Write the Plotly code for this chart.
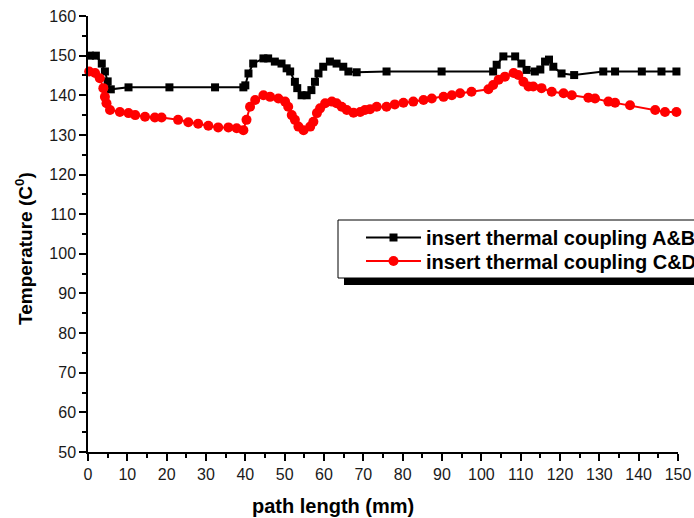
import plotly.graph_objects as go

# ---- data ----
x_ab = [0.5, 2.0, 3.5, 4.3, 5.0, 5.8, 10.3, 20.7, 32.3, 39.5,
        40.0, 40.8, 42.0, 44.6, 45.8, 47.5, 49.2, 50.5, 51.4, 52.6,
        53.2, 54.3, 55.6, 56.8, 57.7, 58.6, 59.8, 61.5, 63.2, 64.9,
        66.2, 68.3, 75.9, 89.9, 103.0, 103.9, 105.6, 108.6, 110.2, 111.5,
        113.6, 115.0, 116.2, 117.2, 118.3, 120.4, 123.6, 131.0, 134.0, 140.8,
        145.8, 149.6]
t_ab = [150, 150, 148, 146, 143.5, 141.5, 142, 142, 142, 142,
        142.5, 145.5, 148, 149.3, 149.3, 148.5, 148, 146.8, 146, 143.4,
        141.8, 140, 140, 141.3, 143.4, 145.5, 147.2, 148.5, 148, 147.2,
        146, 145.8, 146, 146, 146, 147.7, 149.8, 149.8, 148, 146.4,
        146, 146.5, 148.5, 149, 147.2, 145.5, 145.1, 146, 146, 146,
        146, 146]

x_cd = [0.3, 1.8, 3.0, 3.9, 4.3, 4.7, 5.6, 8.1, 10.3, 12.0,
        14.5, 17.0, 18.7, 22.9, 25.5, 28.0, 30.6, 33.1, 35.7, 37.8,
        39.5, 40.3, 41.2, 42.5, 44.6, 46.3, 48.4, 50.1, 50.9, 51.8,
        52.6, 53.5, 54.8, 56.5, 57.3, 58.2, 59.0, 60.3, 62.0, 63.2,
        64.5, 65.8, 67.5, 69.2, 70.4, 71.7, 73.4, 75.9, 78.0, 80.2,
        82.7, 85.3, 87.4, 90.4, 92.5, 94.6, 97.5, 101.8, 103.0, 104.4,
        106.0, 108.2, 109.4, 110.7, 112.0, 113.2, 115.3, 117.9, 120.9, 123.0,
        127.2, 128.9, 132.3, 134.0, 137.8, 144.2, 146.7, 149.6]
t_cd = [146, 145.6, 144.3, 141.8, 139.6, 138.0, 136.3, 135.8, 135.5, 135.0,
        134.6, 134.4, 134.4, 133.8, 133.2, 132.8, 132.3, 131.9, 131.9, 131.7,
        131.2, 133.8, 137.1, 138.8, 140.0, 139.6, 139.2, 138.4, 137.1, 135.0,
        133.8, 132.1, 131.2, 132.1, 133.3, 135.5, 136.7, 138.0, 138.4, 138.0,
        137.1, 136.3, 135.6, 135.8, 136.3, 136.5, 137.1, 137.1, 137.7, 138.1,
        138.4, 138.8, 139.2, 139.6, 140.0, 140.5, 140.9, 141.5, 142.6, 143.9,
        144.7, 145.6, 145.1, 143.4, 142.2, 142.2, 141.8, 140.9, 140.5, 140.0,
        139.4, 139.2, 138.4, 138.1, 137.5, 136.3, 135.8, 135.8]

name_ab = "insert thermal coupling A&B"
name_cd = "insert thermal coupling C&D"
x_title = "path length (mm)"
y_title = "Temperature (C<sup>0</sup>)"

W, H = 694, 518
ML, MR, MT, MB = 88, 16, 16, 66
PW, PH = W - ML - MR, H - MT - MB

def px_x(p):
    return (p - ML) / PW

def px_y(p):
    return (H - MB - p) / PH

FONT = "Liberation Sans, Arial, sans-serif"

fig = go.Figure()
fig.add_trace(go.Scatter(
    x=x_ab, y=t_ab, mode="lines+markers", name=name_ab, legend="legend",
    line=dict(color="black", width=2),
    marker=dict(symbol="square", size=8, color="black"),
    cliponaxis=False))
fig.add_trace(go.Scatter(
    x=x_cd, y=t_cd, mode="lines+markers", name=name_cd, legend="legend2",
    line=dict(color="#ff0000", width=2),
    marker=dict(symbol="circle", size=10, color="#ff0000"),
    cliponaxis=False))

axis_common = dict(
    showgrid=False, zeroline=False, showline=True, linecolor="black", linewidth=1.5,
    ticks="outside", ticklen=7, tickwidth=1.5, tickcolor="black",
    tickfont=dict(family=FONT, size=16, color="#1a1a1a"),
    minor=dict(ticks="outside", ticklen=4, tickwidth=1.5, tickcolor="black", dtick=5),
    mirror=False,
)

fig.update_xaxes(range=[0, 150], dtick=10, tick0=0, **axis_common)
fig.update_yaxes(range=[50, 160], dtick=10, tick0=50, **axis_common)

legend_common = dict(
    x=px_x(338), xanchor="left", yanchor="middle",
    bgcolor="rgba(0,0,0,0)", borderwidth=0,
    font=dict(family=FONT, size=20, color="black", weight="bold"),
    itemwidth=55, indentation=23,
)

fig.update_layout(
    width=W, height=H,
    margin=dict(l=ML, r=MR, t=MT, b=MB, autoexpand=False),
    paper_bgcolor="white", plot_bgcolor="white",
    showlegend=True,
    legend=dict(y=px_y(237.5), **legend_common),
    legend2=dict(y=px_y(261), **legend_common),
    shapes=[
        dict(type="rect", xref="paper", yref="paper",
             x0=px_x(344), x1=px_x(730), y0=px_y(285), y1=px_y(226),
             fillcolor="black", line=dict(width=0), layer="above"),
        dict(type="rect", xref="paper", yref="paper",
             x0=px_x(338), x1=px_x(730), y0=px_y(278), y1=px_y(220),
             fillcolor="white", line=dict(color="black", width=1), layer="above"),
    ],
    annotations=[
        dict(text="<b>" + x_title + "</b>", xref="paper", yref="paper",
             x=px_x(333), y=px_y(506), xanchor="center", yanchor="middle",
             showarrow=False, font=dict(family=FONT, size=20, color="black")),
        dict(text="<b>" + y_title + "</b>", xref="paper", yref="paper",
             x=px_x(24), y=px_y(249), xanchor="center", yanchor="middle",
             textangle=-90, showarrow=False,
             font=dict(family=FONT, size=19, color="black")),
    ],
)

fig.write_html("out.html")
